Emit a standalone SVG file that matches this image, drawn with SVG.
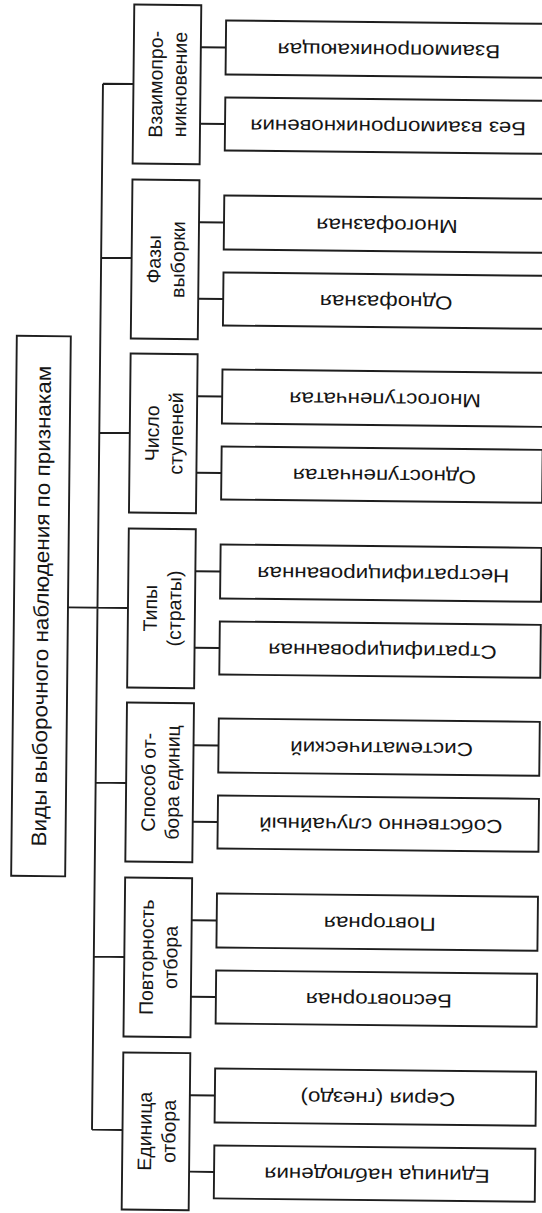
<svg xmlns="http://www.w3.org/2000/svg" width="542" height="1213" viewBox="0 0 542 1213">
<style>
.box{fill:#fff;stroke:#1e1e1e;stroke-width:1.9}
.ln{fill:none;stroke:#1e1e1e;stroke-width:1.9}
.t{font-family:"Liberation Sans",Arial,sans-serif;fill:#151515;text-anchor:middle}
.lf{font-size:19px}
.ct{font-size:19.5px}
.mn{font-size:21px}
</style>
<rect width="542" height="1213" fill="#fff"/>
<g transform="rotate(0.6 271 606)">
<g id="connectors">
<path class="ln" d="M97.5 85.5V1131.5M68 609.5H128M97.5 85.5H128M97.5 259.5H128M97.5 434.5H128M97.5 784.5H128M97.5 958.5H128M97.5 1131.5H128"/>
<path class="ln" d="M195 48H220M195 124.5H220M195 223H220M195 299.5H220M195 397H220M195 473.5H220M195 572H220M195 648.5H220M195 746H220M195 822.5H220M195 921H220M195 997.5H220M195 1096H220M195 1172.5H220"/>
</g>
<g id="main">
<rect class="box" x="14" y="338.5" width="54" height="540"/>
<text class="t mn" transform="translate(48.5,608.5) rotate(-90) scale(1.07,1)">Виды выборочного наблюдения по признакам</text>
</g>
<g id="cat1">
<rect class="box" x="128" y="6" width="67" height="159"/>
<text class="t ct" transform="translate(157,85.5) rotate(-90)">Взаимопро-</text>
<text class="t ct" transform="translate(181,85.5) rotate(-90)">никновение</text>
</g>
<g id="cat2">
<rect class="box" x="128" y="181" width="67" height="159"/>
<text class="t ct" transform="translate(157,260.5) rotate(-90)">Фазы</text>
<text class="t ct" transform="translate(181,260.5) rotate(-90)">выборки</text>
</g>
<g id="cat3">
<rect class="box" x="128" y="355" width="67" height="159"/>
<text class="t ct" transform="translate(157,434.5) rotate(-90)">Число</text>
<text class="t ct" transform="translate(181,434.5) rotate(-90)">ступеней</text>
</g>
<g id="cat4">
<rect class="box" x="128" y="530" width="67" height="159"/>
<text class="t ct" transform="translate(157,609.5) rotate(-90)">Типы</text>
<text class="t ct" transform="translate(181,609.5) rotate(-90)">(страты)</text>
</g>
<g id="cat5">
<rect class="box" x="128" y="704" width="67" height="159"/>
<text class="t ct" transform="translate(157,783.5) rotate(-90)">Способ от-</text>
<text class="t ct" transform="translate(181,783.5) rotate(-90)">бора единиц</text>
</g>
<g id="cat6">
<rect class="box" x="128" y="879" width="67" height="159"/>
<text class="t ct" transform="translate(157,958.5) rotate(-90)">Повторность</text>
<text class="t ct" transform="translate(181,958.5) rotate(-90)">отбора</text>
</g>
<g id="cat7">
<rect class="box" x="128" y="1054" width="67" height="157"/>
<text class="t ct" transform="translate(157,1132.5) rotate(-90)">Единица</text>
<text class="t ct" transform="translate(181,1132.5) rotate(-90)">отбора</text>
</g>
<g id="leaf1"><rect class="box" x="220" y="21" width="321" height="54"/><text class="t lf" transform="translate(383,43) rotate(180) scale(1.18,1)">Взаимопроникающая</text></g>
<g id="leaf2"><rect class="box" x="220" y="98" width="321" height="53"/><text class="t lf" transform="translate(383,119.5) rotate(180) scale(1.18,1)">Без взаимопроникновения</text></g>
<g id="leaf3"><rect class="box" x="220" y="196" width="321" height="54"/><text class="t lf" transform="translate(383,218) rotate(180) scale(1.18,1)">Многофазная</text></g>
<g id="leaf4"><rect class="box" x="220" y="273" width="321" height="53"/><text class="t lf" transform="translate(383,294.5) rotate(180) scale(1.18,1)">Однофазная</text></g>
<g id="leaf5"><rect class="box" x="220" y="370" width="321" height="54"/><text class="t lf" transform="translate(383,392) rotate(180) scale(1.18,1)">Многоступенчатая</text></g>
<g id="leaf6"><rect class="box" x="220" y="447" width="321" height="53"/><text class="t lf" transform="translate(383,468.5) rotate(180) scale(1.18,1)">Одноступенчатая</text></g>
<g id="leaf7"><rect class="box" x="220" y="545" width="321" height="54"/><text class="t lf" transform="translate(383,567) rotate(180) scale(1.18,1)">Нестратифицированная</text></g>
<g id="leaf8"><rect class="box" x="220" y="622" width="321" height="53"/><text class="t lf" transform="translate(383,643.5) rotate(180) scale(1.18,1)">Стратифицированная</text></g>
<g id="leaf9"><rect class="box" x="220" y="719" width="321" height="54"/><text class="t lf" transform="translate(383,741) rotate(180) scale(1.18,1)">Систематический</text></g>
<g id="leaf10"><rect class="box" x="220" y="796" width="321" height="53"/><text class="t lf" transform="translate(383,817.5) rotate(180) scale(1.18,1)">Собственно случайный</text></g>
<g id="leaf11"><rect class="box" x="220" y="894" width="321" height="54"/><text class="t lf" transform="translate(383,916) rotate(180) scale(1.18,1)">Повторная</text></g>
<g id="leaf12"><rect class="box" x="220" y="971" width="321" height="53"/><text class="t lf" transform="translate(383,992.5) rotate(180) scale(1.18,1)">Бесповторная</text></g>
<g id="leaf13"><rect class="box" x="220" y="1069" width="321" height="54"/><text class="t lf" transform="translate(383,1091) rotate(180) scale(1.18,1)">Серия (гнездо)</text></g>
<g id="leaf14"><rect class="box" x="220" y="1146" width="321" height="53"/><text class="t lf" transform="translate(383,1167.5) rotate(180) scale(1.18,1)">Единица наблюдения</text></g>
</g>
</svg>
